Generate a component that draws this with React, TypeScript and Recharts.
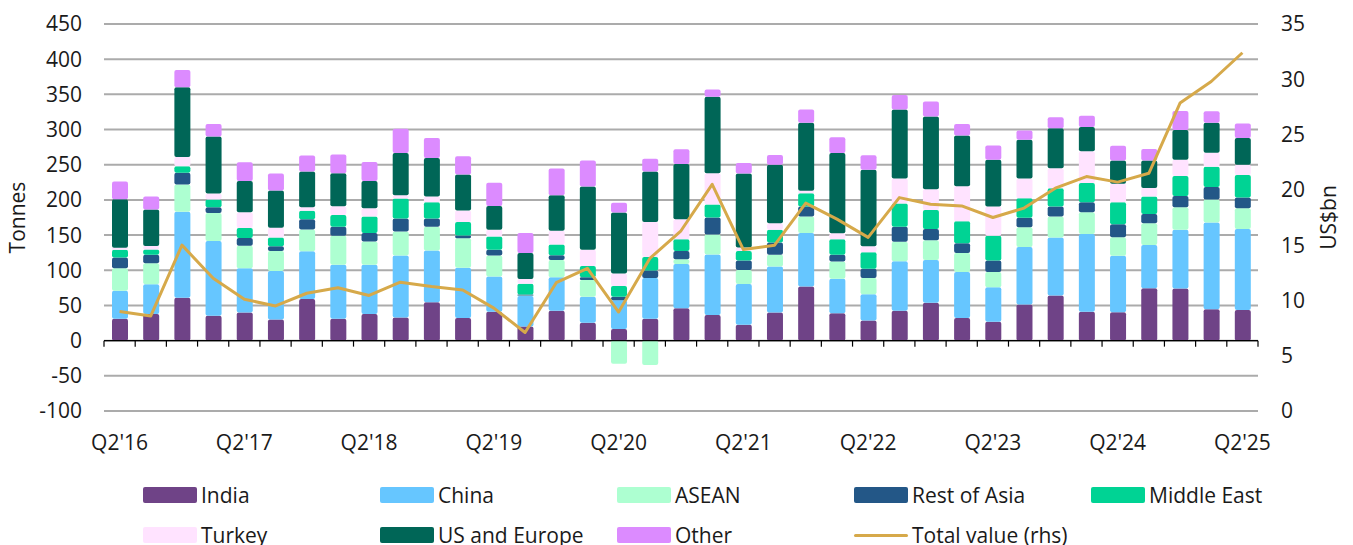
import React from 'react';
import { ComposedChart, Bar, Line, XAxis, YAxis, CartesianGrid, ReferenceLine, Legend } from 'recharts';

const quarters = [
  "Q2'16", "Q3'16", "Q4'16", "Q1'17", "Q2'17", "Q3'17", "Q4'17", "Q1'18", "Q2'18", "Q3'18",
  "Q4'18", "Q1'19", "Q2'19", "Q3'19", "Q4'19", "Q1'20", "Q2'20", "Q3'20", "Q4'20", "Q1'21",
  "Q2'21", "Q3'21", "Q4'21", "Q1'22", "Q2'22", "Q3'22", "Q4'22", "Q1'23", "Q2'23", "Q3'23",
  "Q4'23", "Q1'24", "Q2'24", "Q3'24", "Q4'24", "Q1'25", "Q2'25",
];

const india = [31, 38, 61, 35.5, 40, 30, 59, 31, 38, 33, 54.5, 32, 41, 20, 42.5, 25.5, 16.5, 31, 46, 36.5, 22.5, 40, 77, 39, 28.5, 42.5, 54, 32, 27, 51.5, 64, 41, 40.5, 74.5, 74, 44.5, 43.5];
const china = [40, 42, 122, 106, 63, 69, 68, 77, 70, 88, 73.5, 71.5, 50, 43.5, 47.5, 37, 41, 58, 63, 86, 58, 65.5, 76, 49, 37.5, 70.5, 60.5, 65.5, 49, 81.5, 82.5, 110.5, 80, 61.5, 83.5, 123.5, 115];
const asean = [32, 30, 39, 40, 32, 28.5, 31, 41, 33, 34, 34, 42, 30, 0.5, 24.5, 23.5, -33, -34.5, 6.5, 28.5, 20, 16.5, 23.5, 24.5, 23, 27.5, 28, 27, 21.5, 28, 30, 31, 26.5, 31, 32, 32.5, 29.5];
const restOfAsia = [15, 12, 16.5, 8, 11, 6.5, 14.5, 13, 12, 18.5, 11.5, 4, 8, 1.5, 7, 4, 5, 10.5, 12, 24, 13.5, 17.5, 14, 9.5, 13, 21.5, 16, 14, 16.5, 13.5, 14, 14, 18.5, 13, 16, 18, 15.5];
const middleEast = [11, 7.5, 9.5, 11, 14, 12.5, 12, 16.5, 23.5, 28.5, 23, 19, 19, 15.5, 15, 16, 15, 19.5, 16.5, 18.5, 13.5, 18, 19, 22, 23.5, 33, 27, 31, 35, 28, 26, 27.5, 31, 25, 28.5, 28.5, 32];
const turkey = [3, 5, 13, 8.5, 22.5, 14, 5, 12.5, 11.5, 4.5, 8.5, 16.5, 9.5, 6.5, 19.5, 23, 18, 49.5, 28.5, 44.5, 5, 9.5, 3.5, 8.5, 8.5, 35.5, 29.5, 50, 41.5, 28, 28.5, 45, 26.5, 12, 23, 20, 14.5];
const usEurope = [69, 52, 99, 81, 44.5, 53, 51, 47, 39, 60, 54.5, 51, 34, 37, 50.5, 90, 86.5, 72, 78.5, 108.5, 105, 83, 96.5, 114, 109, 98, 103.5, 72, 66.5, 55, 57, 34.5, 33, 39, 42.5, 42.5, 38];
const other = [25, 18.5, 24.5, 18, 26.5, 24, 22.5, 26.5, 27, 34.5, 28.5, 26, 33, 28.5, 38, 37, 14, 18, 21, 10.5, 15, 14, 19, 22.5, 20.5, 20.5, 21.5, 16.5, 20.5, 13, 15.5, 16, 21, 16.5, 27, 16.5, 20.5];
const totalValue = [9.0, 8.6, 15.0, 12.0, 10.1, 9.5, 10.65, 11.15, 10.45, 11.65, 11.25, 10.95, 9.3, 7.1, 11.6, 12.9, 8.95, 13.8, 16.3, 20.5, 14.6, 15.0, 18.8, 17.35, 15.7, 19.3, 18.7, 18.55, 17.5, 18.35, 20.15, 21.2, 20.7, 21.5, 27.85, 29.8, 32.4];

const leftTicks = [450, 400, 350, 300, 250, 200, 150, 100, 50, 0, -50, -100];
const rightTicks = [0, 5, 10, 15, 20, 25, 30, 35];

const seriesKeys = ['india', 'china', 'asean', 'restOfAsia', 'middleEast', 'turkey', 'usEurope', 'other'];
const seriesNames = ['India', 'China', 'ASEAN', 'Rest of Asia', 'Middle East', 'Turkey', 'US and Europe', 'Other'];
const seriesColors = ['#6F4387', '#66C6FF', '#ADFFD1', '#235787', '#00D394', '#FFE3FF', '#006657', '#DC8BFF'];
const lineName = 'Total value (rhs)';
const lineColor = '#D6A94A';

const seriesValues = [india, china, asean, restOfAsia, middleEast, turkey, usEurope, other];

const data = quarters.map((q, i) => {
  const row: Record<string, any> = { q, total: totalValue[i] };
  seriesKeys.forEach((k, s) => { row[k] = seriesValues[s][i]; });
  return row;
});

// layout
const W = 1353;
const H = 545;
const PLOT_LEFT = 104;
const PLOT_RIGHT = 1258;
const PLOT_TOP = 24;
const PLOT_BOTTOM = 411;
const LEFT_MIN = -100;
const LEFT_MAX = 450;
const LEGEND_H = 84;
const XAXIS_H = 50;
const FONT = '"Open Sans", "Noto Sans", sans-serif';
const TEXT_COLOR = '#1a1a1a';
const FS = 21;

const step = (PLOT_RIGHT - PLOT_LEFT) / quarters.length;
const zeroY = PLOT_TOP + ((LEFT_MAX - 0) / (LEFT_MAX - LEFT_MIN)) * (PLOT_BOTTOM - PLOT_TOP);

function XTick(props: any) {
  const { x, y, payload } = props;
  const label: string = payload.value;
  const idx = quarters.indexOf(label);
  const isLast = idx === quarters.length - 1;
  const showLabel = label.startsWith('Q2');
  return (
    <g>
      <line x1={x - step / 2} x2={x - step / 2} y1={zeroY} y2={zeroY + 6} stroke="#000" strokeWidth={1.2} />
      {isLast && <line x1={x + step / 2} x2={x + step / 2} y1={zeroY} y2={zeroY + 6} stroke="#000" strokeWidth={1.2} />}
      {showLabel && (
        <text x={x} y={y + 31} textAnchor="middle" dominantBaseline="central" fontSize={FS} fontFamily={FONT} fill={TEXT_COLOR}>
          {label}
        </text>
      )}
    </g>
  );
}

// legend slot positions (swatch left x, row centre y relative to legend box top)
const legendPos: [number, number][] = [
  [143, 34], [380, 34], [617, 34], [854, 34], [1091, 34],
  [143, 74], [380, 74], [617, 74], [854, 74],
];

function LegendContent() {
  const items = seriesNames.map((n, i) => ({ name: n, color: seriesColors[i], line: false }));
  items.push({ name: lineName, color: lineColor, line: true });
  return (
    <div style={{ position: 'relative', width: W, height: LEGEND_H }}>
      {items.map((it, i) => {
        const [lx, ly] = legendPos[i];
        return (
          <div key={it.name} style={{ position: 'absolute', left: lx, top: ly - 10, height: 20, display: 'flex', alignItems: 'center', whiteSpace: 'nowrap' }}>
            {it.line ? (
              <div style={{ width: 54, height: 3, background: it.color, borderRadius: 1.5 }} />
            ) : (
              <div style={{ width: 54, height: 16, background: it.color, borderRadius: 2 }} />
            )}
            <span style={{ marginLeft: 4, fontSize: FS, fontFamily: FONT, color: TEXT_COLOR, lineHeight: '20px' }}>{it.name}</span>
          </div>
        );
      })}
    </div>
  );
}

const leftTitle = () => (
  <text
    x={17}
    y={(PLOT_TOP + PLOT_BOTTOM) / 2}
    transform={`rotate(-90, 17, ${(PLOT_TOP + PLOT_BOTTOM) / 2})`}
    textAnchor="middle"
    dominantBaseline="central"
    fontSize={FS}
    fontFamily={FONT}
    fill={TEXT_COLOR}
  >
    Tonnes
  </text>
);

const rightTitle = () => (
  <text
    x={1328}
    y={(PLOT_TOP + PLOT_BOTTOM) / 2}
    transform={`rotate(-90, 1328, ${(PLOT_TOP + PLOT_BOTTOM) / 2})`}
    textAnchor="middle"
    dominantBaseline="central"
    fontSize={FS}
    fontFamily={FONT}
    fill={TEXT_COLOR}
  >
    US$bn
  </text>
);

export default function App() {
  return (
    <div style={{ position: 'absolute', left: 0, top: 0, width: W, height: H, background: '#fff', fontFamily: FONT }}>
      <ComposedChart
        width={W}
        height={H}
        data={data}
        stackOffset="sign"
        margin={{ top: PLOT_TOP, right: 0, bottom: 0, left: 0 }}
      >
        <CartesianGrid yAxisId="left" horizontal vertical={false} stroke="#ABABAB" strokeWidth={2} />
        <XAxis
          dataKey="q"
          interval={0}
          height={XAXIS_H}
          axisLine={false}
          tickLine={false}
          tickSize={0}
          tickMargin={0}
          tick={<XTick />}
        />
        <YAxis
          yAxisId="left"
          orientation="left"
          width={PLOT_LEFT}
          domain={[LEFT_MIN, LEFT_MAX]}
          ticks={leftTicks}
          interval={0}
          axisLine={false}
          tickLine={false}
          tickSize={0}
          tickMargin={22}
          tick={{ fontSize: FS, fontFamily: FONT, fill: TEXT_COLOR }}
          label={leftTitle}
        />
        <YAxis
          yAxisId="right"
          orientation="right"
          width={W - PLOT_RIGHT}
          domain={[0, 35]}
          ticks={rightTicks}
          interval={0}
          axisLine={false}
          tickLine={false}
          tickSize={0}
          tickMargin={23}
          tick={{ fontSize: FS, fontFamily: FONT, fill: TEXT_COLOR, textAnchor: 'start' }}
          label={rightTitle}
        />
        {seriesKeys.map((k, i) => (
          <Bar
            key={k}
            yAxisId="left"
            dataKey={k}
            name={seriesNames[i]}
            stackId="s"
            fill={seriesColors[i]}
            barSize={16}
            radius={2}
            isAnimationActive={false}
          />
        ))}
        <ReferenceLine yAxisId="left" y={0} stroke="#000" strokeWidth={1.3} />
        <Line
          yAxisId="right"
          dataKey="total"
          name={lineName}
          stroke={lineColor}
          strokeWidth={3}
          dot={false}
          activeDot={false}
          strokeLinejoin="round"
          isAnimationActive={false}
        />
        <Legend
          verticalAlign="bottom"
          height={LEGEND_H}
          wrapperStyle={{ left: 0, bottom: 0, width: W, height: LEGEND_H }}
          content={<LegendContent />}
        />
      </ComposedChart>
    </div>
  );
}
